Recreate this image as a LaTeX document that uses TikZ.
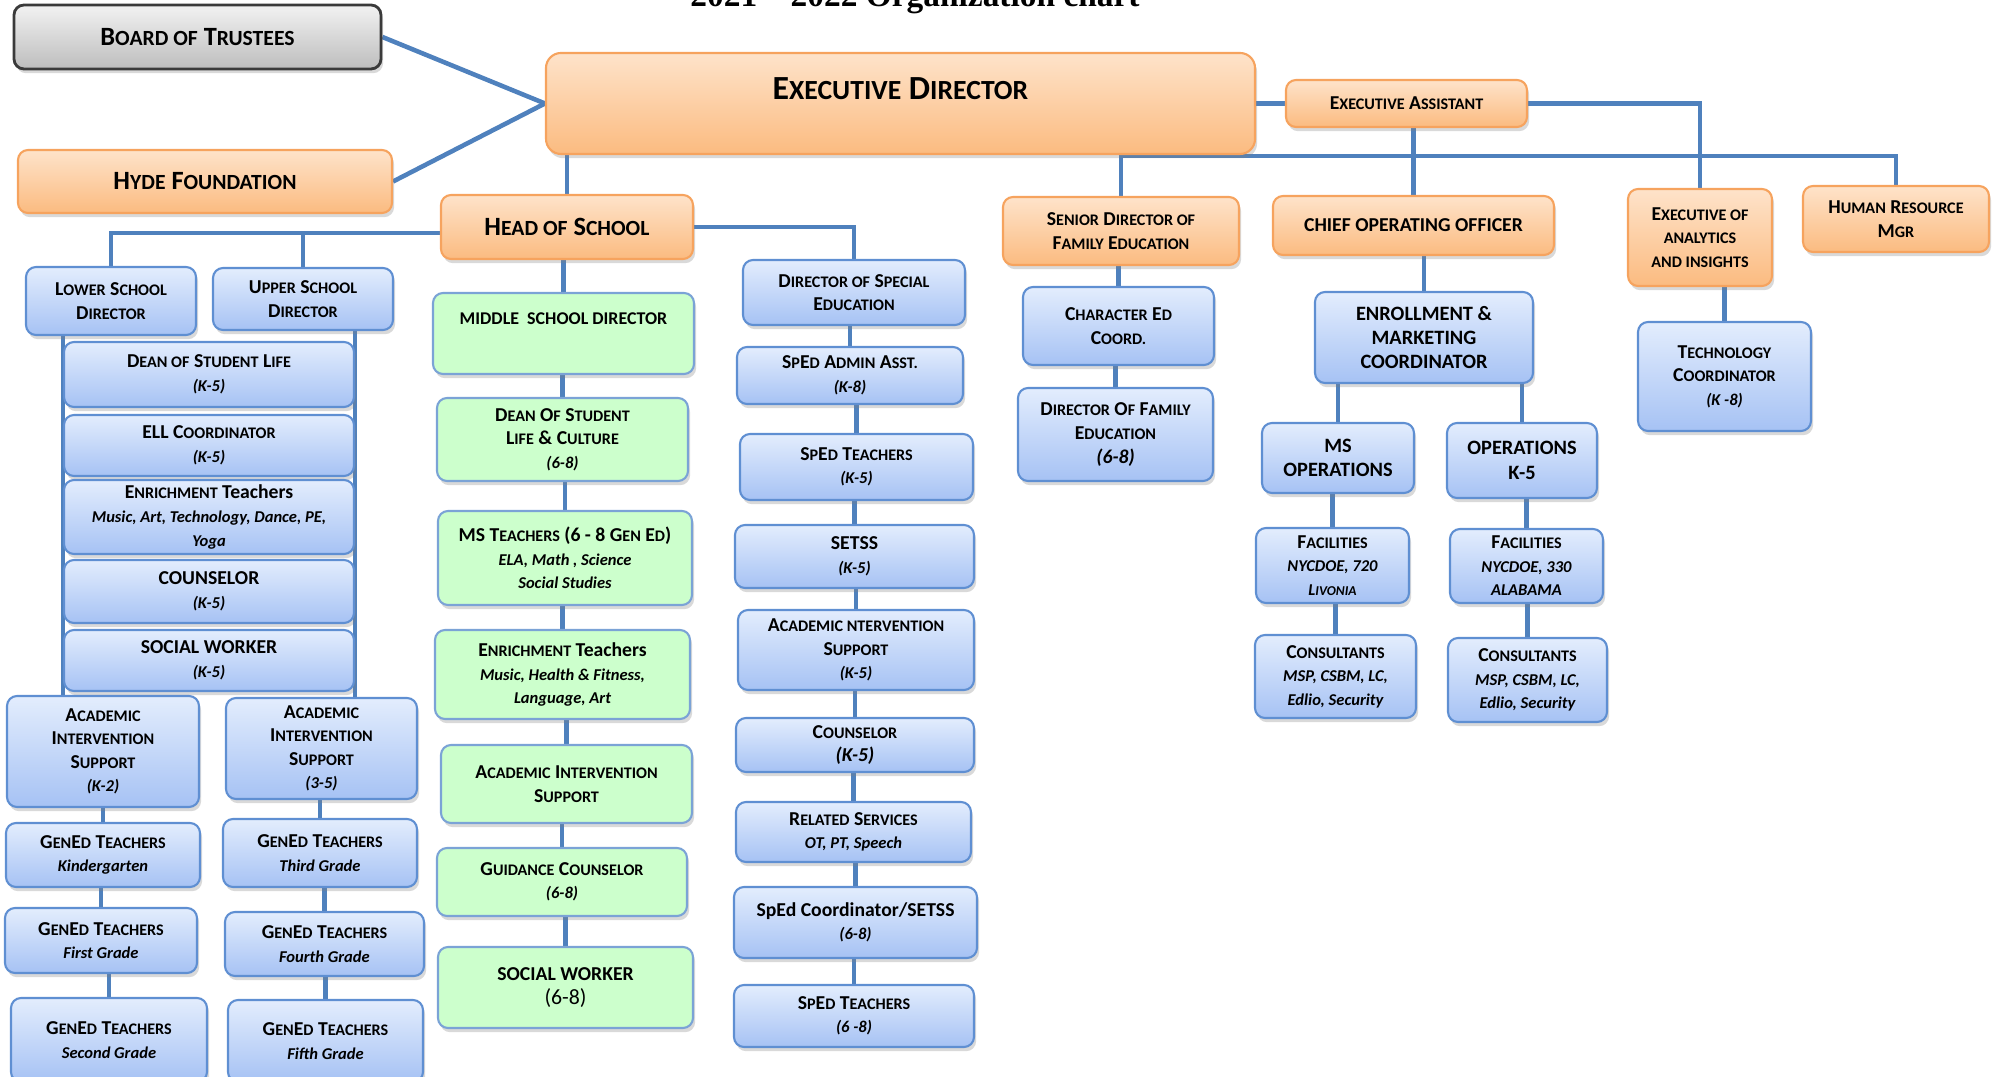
\documentclass[tikz,border=0pt]{standalone}
\usepackage{fontspec}
\usepackage{graphicx}
\setmainfont{Carlito}
\newfontfamily\titlefont{Liberation Serif}
\usetikzlibrary{shadows}

\definecolor{linkblue}{HTML}{4F81BD}
\definecolor{blueline}{HTML}{5F8FD2}
\definecolor{blueTop}{HTML}{E3EDFD}
\definecolor{blueBot}{HTML}{A6C2F4}
\definecolor{greenFill}{HTML}{CCFFCC}
\definecolor{greenline}{HTML}{7BA3D6}
\definecolor{orTop}{HTML}{FEE3CA}
\definecolor{orBot}{HTML}{FBBB80}
\definecolor{orline}{HTML}{F6A35E}
\definecolor{grayTop}{HTML}{F2F2F2}
\definecolor{grayBot}{HTML}{BDBDBD}
\definecolor{grayline}{HTML}{3A3A3A}

% fake small caps and sub lines
\newcommand{\scap}[1]{\scalebox{0.82}{#1}}
\newcommand{\subt}[1]{{\fontsize{4.7}{6.7}\selectfont\itshape #1}}
\newcommand{\subb}[1]{{\fontsize{5.6}{6.7}\selectfont\itshape #1}}
\newcommand{\bigfont}{\fontsize{9.6}{11}\selectfont\bfseries}
\newcommand{\midfont}{\fontsize{7.5}{9}\selectfont\bfseries}

\pgfdeclarelayer{bg}
\pgfsetlayers{bg,main}

\tikzset{
  link/.style={draw=linkblue, line width=1.3pt},
  wh/.style 2 args={minimum width=#1*0.01cm, minimum height=#2*0.01cm},
  box/.style={rounded corners=0.1cm, align=center, inner sep=1pt,
    font=\fontsize{5.6}{6.7}\selectfont\bfseries,
    drop shadow={shadow xshift=0.6pt, shadow yshift=-1.2pt, opacity=0.3}},
  bluebox/.style={box, draw=blueline, line width=0.6pt, top color=blueTop, bottom color=blueBot},
  greenbox/.style={box, draw=greenline, line width=0.6pt, fill=greenFill},
  orangebox/.style={box, draw=orline, line width=0.6pt, top color=orTop, bottom color=orBot},
  graybox/.style={box, draw=grayline, line width=0.8pt, top color=grayTop, bottom color=grayBot}
}

\begin{document}
\begin{tikzpicture}[x=0.01cm, y=-0.01cm]
  \useasboundingbox (0,0) rectangle (2000,1077);
  \node[anchor=base, font=\titlefont\fontsize{9.5}{11}\selectfont\bfseries] (title) at (915,7) {2021 – 2022 Organization chart};

  % top level
  \node[graybox, wh={367}{64}, font=\midfont] (bot) at (197.5,37) {B\scap{OARD OF} T\scap{RUSTEES}};
  \node[orangebox, wh={374}{63}, font=\midfont] (hyde) at (205,181.5) {H\scap{YDE} F\scap{OUNDATION}};
  \node[orangebox, wh={709}{101}, rounded corners=0.15cm, font=\bigfont, text depth=0.3cm] (ed) at (900.5,103.5) {E\scap{XECUTIVE} D\scap{IRECTOR}};
  \node[orangebox, wh={241}{47}] (ea) at (1406.5,103.5) {E\scap{XECUTIVE} A\scap{SSISTANT}};
  \node[orangebox, wh={252}{64}, font=\midfont] (hos) at (567,227) {H\scap{EAD OF} S\scap{CHOOL}};
  \node[orangebox, wh={236}{68}] (sdfe) at (1121,231) {S\scap{ENIOR} D\scap{IRECTOR OF}\\F\scap{AMILY} E\scap{DUCATION}};
  \node[orangebox, wh={281}{59}] (coo) at (1413.5,225.5) {CHIEF OPERATING OFFICER};
  \node[orangebox, wh={144}{97}] (eai) at (1700,237.5) {E\scap{XECUTIVE OF}\\\scap{ANALYTICS}\\\scap{AND INSIGHTS}};
  \node[orangebox, wh={186}{66}] (hr) at (1896,219) {H\scap{UMAN} R\scap{ESOURCE}\\M\scap{GR}};

  % lower and upper school
  \node[bluebox, wh={170}{68}] (lsd) at (111,301) {L\scap{OWER} S\scap{CHOOL}\\D\scap{IRECTOR}};
  \node[bluebox, wh={180}{62}] (usd) at (303,299) {U\scap{PPER} S\scap{CHOOL}\\D\scap{IRECTOR}};
  \node[bluebox, wh={290}{65}] (dsl) at (209,374.5) {D\scap{EAN OF} S\scap{TUDENT} L\scap{IFE}\\\subt{(K-5)}};
  \node[bluebox, wh={290}{61}] (ell) at (209,445.5) {ELL C\scap{OORDINATOR}\\\subt{(K-5)}};
  \node[bluebox, wh={290}{74}] (enr) at (209,517) {E\scap{NRICHMENT} Teachers\\\subt{Music, Art, Technology, Dance, PE,}\\\subt{Yoga}};
  \node[bluebox, wh={290}{63}] (csl) at (209,591.5) {COUNSELOR\\\subt{(K-5)}};
  \node[bluebox, wh={290}{61}] (sw) at (209,660.5) {SOCIAL WORKER\\\subt{(K-5)}};
  \node[bluebox, wh={192}{111}] (aisa) at (103,751.5) {A\scap{CADEMIC}\\I\scap{NTERVENTION}\\S\scap{UPPORT}\\\subt{(K-2)}};
  \node[bluebox, wh={191}{101}] (aisb) at (321.5,748.5) {A\scap{CADEMIC}\\I\scap{NTERVENTION}\\S\scap{UPPORT}\\\subt{(3-5)}};
  \node[bluebox, wh={194}{64}] (gk) at (103,855) {G\scap{EN}E\scap{D} T\scap{EACHERS}\\\subt{Kindergarten}};
  \node[bluebox, wh={192}{65}] (g1) at (101,940.5) {G\scap{EN}E\scap{D} T\scap{EACHERS}\\\subt{First Grade}};
  \node[bluebox, wh={196}{84}] (g2) at (109,1040) {G\scap{EN}E\scap{D} T\scap{EACHERS}\\\subt{Second Grade}};
  \node[bluebox, wh={194}{68}] (g3) at (320,853) {G\scap{EN}E\scap{D} T\scap{EACHERS}\\\subt{Third Grade}};
  \node[bluebox, wh={199}{64}] (g4) at (324.5,944) {G\scap{EN}E\scap{D} T\scap{EACHERS}\\\subt{Fourth Grade}};
  \node[bluebox, wh={195}{82}] (g5) at (325.5,1041) {G\scap{EN}E\scap{D} T\scap{EACHERS}\\\subt{Fifth Grade}};

  % middle school
  \node[greenbox, wh={261}{81}, font=\fontsize{5.1}{6.7}\selectfont\bfseries, text depth=0.3cm] (msd) at (563.5,333.5) {MIDDLE\ \ SCHOOL DIRECTOR};
  \node[greenbox, wh={251}{83}] (dslc) at (562.5,439.5) {D\scap{EAN} O\scap{F} S\scap{TUDENT}\\L\scap{IFE} \& C\scap{ULTURE}\\\subt{(6-8)}};
  \node[greenbox, wh={254}{94}] (mst) at (565,558) {MS T\scap{EACHERS} (6 - 8 G\scap{EN} E\scap{D})\\\subt{ELA, Math , Science}\\\subt{Social Studies}};
  \node[greenbox, wh={255}{89}] (enrm) at (562.5,674.5) {E\scap{NRICHMENT} Teachers\\\subt{Music, Health \& Fitness,}\\\subt{Language, Art}};
  \node[greenbox, wh={251}{78}] (aism) at (566.5,784) {A\scap{CADEMIC} I\scap{NTERVENTION}\\S\scap{UPPORT}};
  \node[greenbox, wh={250}{68}] (gc) at (562,882) {G\scap{UIDANCE} C\scap{OUNSELOR}\\\subt{(6-8)}};
  \node[greenbox, wh={255}{81}] (swm) at (565.5,987.5) {SOCIAL WORKER\\{\fontsize{6.2}{6.7}\selectfont\mdseries (6-8)}};

  % special education
  \node[bluebox, wh={222}{65}] (dse) at (854,292.5) {D\scap{IRECTOR OF} S\scap{PECIAL}\\E\scap{DUCATION}};
  \node[bluebox, wh={226}{57}] (sea) at (850,375.5) {S\scap{P}E\scap{D} A\scap{DMIN} A\scap{SST.}\\\subt{(K-8)}};
  \node[bluebox, wh={233}{66}] (spt) at (856.5,467) {S\scap{P}E\scap{D} T\scap{EACHERS}\\\subt{(K-5)}};
  \node[bluebox, wh={239}{63}] (setss) at (854.5,556.5) {SETSS\\\subt{(K-5)}};
  \node[bluebox, wh={236}{80}] (aiss) at (856,650) {A\scap{CADEMIC NTERVENTION}\\S\scap{UPPORT}\\\subt{(K-5)}};
  \node[bluebox, wh={238}{54}] (cslk) at (855,745) {C\scap{OUNSELOR}\\\subb{(K-5)}};
  \node[bluebox, wh={235}{60}] (rs) at (853.5,832) {R\scap{ELATED} S\scap{ERVICES}\\\subt{OT, PT, Speech}};
  \node[bluebox, wh={243}{71}] (spc) at (855.5,922.5) {SpEd Coordinator/SETSS\\\subt{(6-8)}};
  \node[bluebox, wh={240}{62}] (spt8) at (854,1016) {S\scap{P}E\scap{D} T\scap{EACHERS}\\\subt{(6 -8)}};

  % family education, operations, analytics
  \node[bluebox, wh={191}{78}] (ced) at (1118.5,326) {C\scap{HARACTER} E\scap{D}\\C\scap{OORD.}};
  \node[bluebox, wh={195}{93}] (dfe) at (1115.5,434.5) {D\scap{IRECTOR} O\scap{F} F\scap{AMILY}\\E\scap{DUCATION}\\\subb{(6-8)}};
  \node[bluebox, wh={218}{91}, font=\fontsize{5.8}{6.9}\selectfont\bfseries] (emc) at (1424,337.5) {ENROLLMENT \&\\MARKETING\\COORDINATOR};
  \node[bluebox, wh={152}{70}, font=\fontsize{5.8}{6.9}\selectfont\bfseries] (mso) at (1338,458) {MS\\OPERATIONS};
  \node[bluebox, wh={150}{75}, font=\fontsize{5.8}{6.9}\selectfont\bfseries] (opk) at (1522,460.5) {OPERATIONS\\K-5};
  \node[bluebox, wh={153}{75}] (facm) at (1332.5,565.5) {F\scap{ACILITIES}\\\subt{NYCDOE, 720}\\\subt{L\scap{IVONIA}}};
  \node[bluebox, wh={153}{74}] (fack) at (1526.5,566) {F\scap{ACILITIES}\\\subt{NYCDOE, 330}\\\subt{ALABAMA}};
  \node[bluebox, wh={161}{83}] (conm) at (1335.5,676.5) {C\scap{ONSULTANTS}\\\subt{MSP, CSBM, LC,}\\\subt{Edlio, Security}};
  \node[bluebox, wh={159}{84}] (conk) at (1527.5,680) {C\scap{ONSULTANTS}\\\subt{MSP, CSBM, LC,}\\\subt{Edlio, Security}};
  \node[bluebox, wh={173}{109}] (tech) at (1724.5,376.5) {T\scap{ECHNOLOGY}\\C\scap{OORDINATOR}\\\subt{(K -8)}};

  \coordinate (barL) at (0,156);
  \coordinate (barH) at (0,233);

  \begin{pgfonlayer}{bg}
    \draw[link] (bot.east) -- (ed.west);
    \draw[link] (hyde.east) -- (ed.west);
    \draw[link] (ed.east) -- (ea.west);
    \draw[link] (ea.east) -| (eai.north);
    \draw[link] (sdfe.north) |- (hr.north |- barL) -- (hr.north);
    \draw[link] (lsd.north) |- (hos.west |- barH);
    \draw[link] (usd.north) -- (usd.north |- barH);
    \draw[link] (hos.east) -| (dse.north);
    \draw[link] (dsl.west |- lsd.south) -- (dsl.west |- aisa.north);
    \draw[link] (dsl.east |- usd.south) -- (dsl.east |- aisb.north);
    \foreach \a/\b in {ed/hos, ea/coo, hos/msd, aisa/gk, gk/g1, g1/g2, aisb/g3, g3/g4, g4/g5,
        msd/dslc, dslc/mst, mst/enrm, enrm/aism, aism/gc, gc/swm,
        dse/sea, sea/spt, spt/setss, setss/aiss, aiss/cslk, cslk/rs, rs/spc, spc/spt8,
        sdfe/ced, ced/dfe, coo/emc, emc/mso, emc/opk, mso/facm, facm/conm,
        opk/fack, fack/conk, eai/tech}
      \draw[link] (\b.north |- \a.south) -- (\b.north);
  \end{pgfonlayer}
\end{tikzpicture}
\end{document}
